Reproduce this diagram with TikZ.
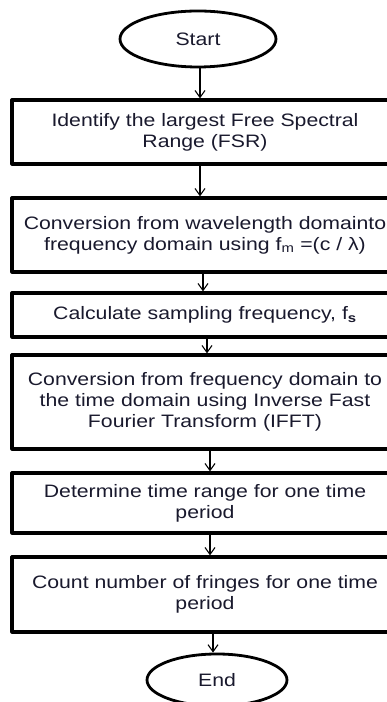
\documentclass[tikz,border=0pt]{standalone}
\usepackage{fontspec}
\setmainfont{Liberation Sans}[FakeStretch=1.18]
\usetikzlibrary{shapes.geometric,arrows.meta}
\definecolor{ink}{RGB}{25,25,45}
\begin{document}
\begin{tikzpicture}[x=1pt, y=1pt, line join=round, >={Straight Barb[length=7pt,width=10pt]},
		font=\fontsize{18}{21}\selectfont,
		term/.style={ellipse, draw, line width=2.8pt, text=ink, inner sep=0pt},
		stepbox/.style={rectangle, draw, line width=3.2pt, text=ink, minimum width=386pt, align=center, inner sep=0pt},
		flow/.style={->, line width=1.1pt}]
		\useasboundingbox (0,0) rectangle (387,702);
		\node[term, minimum width=156pt, minimum height=56pt] (start) at (198,663) {Start};
		\node[stepbox, minimum height=64pt] (fsr) at (205,570) {Identify the largest Free Spectral\\Range (FSR)};
		\node[stepbox, minimum height=74pt] (conv) at (205,467) {Conversion from wavelength domainto\\frequency domain using f\textsubscript{m} =(c / λ)};
		\node[stepbox, minimum height=44pt] (samp) at (205,387) {Calculate sampling frequency, f\textsubscript{\textbf{s}}};
		\node[stepbox, minimum height=94pt] (ifft) at (205,300) {Conversion from frequency domain to\\the time domain using Inverse Fast\\Fourier Transform (IFFT)};
		\node[stepbox, minimum height=60pt] (trange) at (205,199) {Determine time range for one time\\period};
		\node[stepbox, minimum height=75pt] (fringe) at (205,107.5) {Count number of fringes for one time\\period};
		\node[term, minimum width=140pt, minimum height=52pt] (end) at (217,22) {End};
		% arrows drift a little to the right going down
		\foreach \a/\b/\s in {start/fsr/2, fsr/conv/-5, conv/samp/-2, samp/ifft/2, ifft/trange/5, trange/fringe/5, fringe/end/8}
		\draw[flow] ([xshift=\s pt]\a.south) -- ([xshift=\s pt]\a.south |- \b.north);
\end{tikzpicture}
\end{document}
